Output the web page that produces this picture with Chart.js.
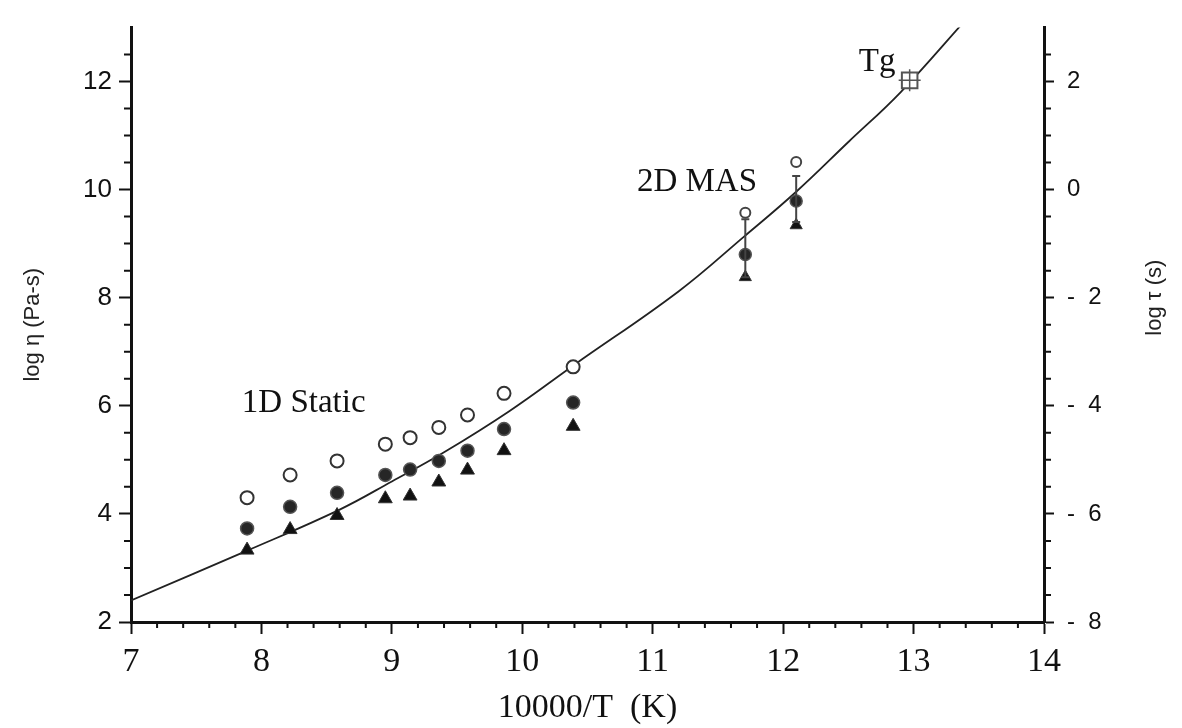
<!DOCTYPE html>
<html>
<head>
<meta charset="utf-8">
<script src="https://cdn.jsdelivr.net/npm/chart.js@4.4.1/dist/chart.umd.min.js"></script>
<style>
  html, body { margin: 0; padding: 0; background: #fff; }
  #caja { width: 1182px; height: 728px; position: relative; }
</style>
</head>
<body>
<div id="caja"><canvas id="grafico"></canvas></div>
<script>
// ========== DATOS ==========
// 1D static: tres medidas por temperatura
const estaticoX = [7.89, 8.22, 8.58, 8.95, 9.14, 9.36, 9.58, 9.86, 10.39];
const estaticoAbierto = [4.30, 4.72, 4.98, 5.29, 5.41, 5.60, 5.83, 6.23, 6.72];
const estaticoLleno = [3.73, 4.13, 4.39, 4.72, 4.82, 4.98, 5.17, 5.57, 6.06];
const estaticoTriang = [3.33, 3.71, 3.97, 4.28, 4.33, 4.59, 4.81, 5.17, 5.62];

// 2D MAS
const masX = [11.71, 12.10];
const masAbierto = [9.57, 10.51];
const masLleno = [8.80, 9.79];
const masTriang = [8.38, 9.34];
const masErrAlto = [9.45, 10.25];
const masErrBajo = [8.38, 9.40];

// Tg
const tgX = [12.97];
const tgY = [12.02];

// curva ajustada
const curvaX = [7.0, 7.9, 8.6, 9.0, 9.4, 9.9, 10.4, 11.2, 11.7, 12.1, 12.5, 12.9, 13.4];
const curvaY = [2.40, 3.33, 4.08, 4.60, 5.14, 5.90, 6.76, 8.12, 9.13, 9.96, 10.88, 11.80, 13.14];

// textos (x = borde izquierdo, salvo 2D MAS que va alineado a la derecha)
const notasTexto = ['1D Static', '2D MAS', 'Tg'];
const notasX = [7.85, 11.80, 12.58];
const notasY = [5.89, 9.98, 12.20];
const notasAlinea = ['left', 'right', 'left'];

const pares = (xs, ys) => xs.map((x, i) => ({ x: x, y: ys[i] }));

// ========== PLUGINS ==========
const ticksMenores = {
  id: 'ticksMenores',
  afterDraw(chart) {
    const { ctx, chartArea } = chart;
    const sx = chart.scales.x, sy = chart.scales.y, sy2 = chart.scales.y2;
    ctx.save();
    ctx.strokeStyle = '#111';
    ctx.lineWidth = 2;
    ctx.beginPath();
    for (let i = 1; i < 35; i++) {
      if (i % 5 === 0) continue;
      const px = sx.getPixelForValue(7 + i * 0.2);
      ctx.moveTo(px, chartArea.bottom);
      ctx.lineTo(px, chartArea.bottom + 6);
    }
    for (let i = 1; i < 22; i++) {
      if (i % 4 === 0) continue;
      const py = sy.getPixelForValue(2 + i * 0.5);
      ctx.moveTo(chartArea.left - 7, py);
      ctx.lineTo(chartArea.left, py);
      const py2 = sy2.getPixelForValue(-8 + i * 0.5);
      ctx.moveTo(chartArea.right, py2);
      ctx.lineTo(chartArea.right + 7, py2);
    }
    ctx.stroke();

    // titulo eje derecho (de abajo hacia arriba)
    ctx.fillStyle = '#222';
    ctx.font = '22px "Liberation Sans", Arial, sans-serif';
    ctx.textAlign = 'center';
    ctx.textBaseline = 'middle';
    ctx.translate(chartArea.right + 111, sy2.getPixelForValue(-2));
    ctx.rotate(-Math.PI / 2);
    ctx.fillText('log τ (s)', 0, 0);
    ctx.restore();

    // notas
    ctx.save();
    ctx.fillStyle = '#111';
    ctx.font = '33px "Liberation Serif", "Times New Roman", serif';
    ctx.textBaseline = 'alphabetic';
    notasTexto.forEach((t, i) => {
      ctx.textAlign = notasAlinea[i];
      ctx.fillText(t, sx.getPixelForValue(notasX[i]), sy.getPixelForValue(notasY[i]));
    });
    ctx.restore();
  }
};

const barrasError = {
  id: 'barrasError',
  afterDatasetsDraw(chart) {
    const { ctx } = chart;
    const sx = chart.scales.x, sy = chart.scales.y;
    ctx.save();
    ctx.strokeStyle = '#444';
    ctx.lineWidth = 2;
    masX.forEach((x, i) => {
      const px = sx.getPixelForValue(x);
      const pa = sy.getPixelForValue(masErrAlto[i]);
      const pb = sy.getPixelForValue(masErrBajo[i]);
      ctx.beginPath();
      ctx.moveTo(px, pa); ctx.lineTo(px, pb);
      ctx.moveTo(px - 4, pa); ctx.lineTo(px + 4, pa);
      ctx.moveTo(px - 4, pb); ctx.lineTo(px + 4, pb);
      ctx.stroke();
    });
    ctx.restore();
  }
};

// ========== GRAFICO ==========
const fuenteSans = '"Liberation Sans", Arial, sans-serif';
const fuenteSerif = '"Liberation Serif", "Times New Roman", serif';

new Chart(document.getElementById('grafico'), {
  type: 'scatter',
  data: {
    datasets: [
      {
        label: 'curva',
        data: pares(curvaX, curvaY),
        showLine: true,
        borderColor: '#222',
        borderWidth: 1.8,
        pointRadius: 0,
        tension: 0.4,
        order: 10
      },
      {
        label: 'abierto',
        data: pares(estaticoX, estaticoAbierto),
        pointStyle: 'circle',
        pointRadius: 6.5,
        borderWidth: 2,
        borderColor: '#333',
        backgroundColor: '#fff',
        order: 1
      },
      {
        label: 'lleno',
        data: pares(estaticoX, estaticoLleno),
        pointStyle: 'circle',
        pointRadius: 6.5,
        borderWidth: 1.5,
        borderColor: '#555',
        backgroundColor: '#262626',
        order: 1
      },
      {
        label: 'triangulo',
        data: pares(estaticoX, estaticoTriang),
        pointStyle: 'triangle',
        pointRadius: 8,
        borderWidth: 1,
        borderColor: '#333',
        backgroundColor: '#111',
        order: 1
      },
      {
        label: 'mas abierto',
        data: pares(masX, masAbierto),
        pointStyle: 'circle',
        pointRadius: 5,
        borderWidth: 2,
        borderColor: '#444',
        backgroundColor: '#fff',
        order: 1
      },
      {
        label: 'mas lleno',
        data: pares(masX, masLleno),
        pointStyle: 'circle',
        pointRadius: 6,
        borderWidth: 1.5,
        borderColor: '#555',
        backgroundColor: '#262626',
        order: 1
      },
      {
        label: 'mas triangulo',
        data: pares(masX, masTriang),
        pointStyle: 'triangle',
        pointRadius: 7,
        borderWidth: 1,
        borderColor: '#333',
        backgroundColor: '#111',
        order: 1
      },
      {
        label: 'Tg',
        data: pares(tgX, tgY),
        pointStyle: 'rect',
        pointRadius: 11,
        borderWidth: 2,
        borderColor: '#555',
        backgroundColor: '#fff',
        order: 2
      },
      {
        label: 'Tg cruz',
        data: pares(tgX, tgY),
        pointStyle: 'cross',
        pointRadius: 11,
        borderWidth: 1.5,
        borderColor: '#555',
        order: 1
      }
    ]
  },
  options: {
    responsive: true,
    maintainAspectRatio: false,
    animation: false,
    layout: { padding: { top: 22, left: 0, right: 0, bottom: 0 } },
    plugins: {
      legend: { display: false },
      tooltip: { enabled: false }
    },
    scales: {
      x: {
        type: 'linear',
        position: 'bottom',
        min: 7,
        max: 14,
        afterFit(s) { s.height = 106; },
        border: { display: true, color: '#111', width: 3 },
        grid: { drawOnChartArea: false, drawTicks: true, tickLength: 12, tickWidth: 2, tickColor: '#111' },
        ticks: {
          stepSize: 1,
          padding: 8,
          color: '#111',
          font: { family: fuenteSerif, size: 34 }
        },
        title: {
          display: true,
          text: '10000/T  (K)',
          color: '#111',
          padding: { top: 0, bottom: 0 },
          font: { family: fuenteSerif, size: 34 }
        }
      },
      y: {
        type: 'linear',
        position: 'left',
        min: 2,
        max: 13,
        afterFit(s) { s.width = 131; },
        afterBuildTicks(s) { s.ticks = s.ticks.filter(t => t.value % 2 === 0); },
        border: { display: true, color: '#111', width: 3 },
        grid: { drawOnChartArea: false, drawTicks: true, tickLength: 12, tickWidth: 2, tickColor: '#111' },
        ticks: {
          stepSize: 2,
          padding: 7,
          color: '#111',
          font: { family: fuenteSans, size: 26 }
        },
        title: {
          display: true,
          text: 'log η (Pa-s)',
          color: '#222',
          padding: { top: 20, bottom: 0 },
          font: { family: fuenteSans, size: 22 }
        }
      },
      y2: {
        type: 'linear',
        position: 'right',
        min: -8,
        max: 3,
        afterFit(s) { s.width = 138; },
        afterBuildTicks(s) { s.ticks = s.ticks.filter(t => t.value % 2 === 0); },
        border: { display: true, color: '#111', width: 3 },
        grid: { drawOnChartArea: false, drawTicks: true, tickLength: 10, tickWidth: 2, tickColor: '#111' },
        ticks: {
          stepSize: 2,
          padding: 13,
          color: '#111',
          font: { family: fuenteSans, size: 24 },
          callback: v => (v < 0 ? '-  ' + Math.abs(v) : String(v))
        }
      }
    }
  },
  plugins: [ticksMenores, barrasError]
});
</script>
</body>
</html>
